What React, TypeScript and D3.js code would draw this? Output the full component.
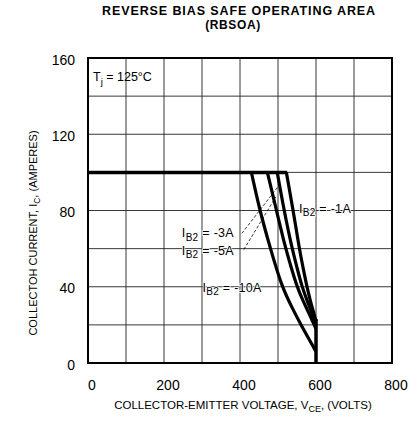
import React, { useRef, useEffect } from "react";
import * as d3 from "d3";

// Values (VCE in volts, IC in amperes)
const xTicks = [0, 200, 400, 600, 800];
const yTicks = [0, 40, 80, 120, 160];

const flatVce = [0, 524];
const flatIc = [100, 100];
const edgeVce = [600, 600];
const edgeIc = [0, 23];

const ib10Vce = [430, 452, 480, 510, 537, 563, 583, 600];
const ib10Ic = [100, 80, 60, 40, 29, 19, 12, 6];
const ib5Vce = [472, 496, 520, 535, 550, 567, 584, 600];
const ib5Ic = [100, 80, 60, 50, 40, 32, 25, 18];
const ib3Vce = [498, 516, 537, 550, 563, 578, 590, 600];
const ib3Ic = [100, 80, 60, 50, 40, 32, 26, 20];
const ib1Vce = [522, 540, 556, 566, 576, 586, 593, 600];
const ib1Ic = [100, 80, 60, 50, 40, 32, 27, 22];

const curves = [
  { label: "-10A", vce: ib10Vce, ic: ib10Ic },
  { label: "-5A", vce: ib5Vce, ic: ib5Ic },
  { label: "-3A", vce: ib3Vce, ic: ib3Ic },
  { label: "-1A", vce: ib1Vce, ic: ib1Ic },
];

const W = 417;
const H = 423;
const FONT = "'Liberation Sans', Arial, sans-serif";

const App: React.FC = () => {
  const svgRef = useRef<SVGSVGElement | null>(null);

  useEffect(() => {
    if (!svgRef.current) return;
    const svg = d3.select(svgRef.current);
    svg.selectAll("*").remove();

    const x = d3.scaleLinear().domain([0, 800]).range([88, 392]);
    const y = d3.scaleLinear().domain([0, 160]).range([363, 58]);

    // grid
    const grid = svg.append("g").attr("stroke", "#222").attr("stroke-width", 0.9);
    grid
      .selectAll("line.v")
      .data(d3.range(100, 800, 100))
      .enter()
      .append("line")
      .attr("x1", (d) => x(d))
      .attr("x2", (d) => x(d))
      .attr("y1", y(0))
      .attr("y2", y(160));
    grid
      .selectAll("line.h")
      .data(d3.range(20, 160, 20))
      .enter()
      .append("line")
      .attr("x1", x(0))
      .attr("x2", x(800))
      .attr("y1", (d) => y(d))
      .attr("y2", (d) => y(d));

    // frame
    svg
      .append("rect")
      .attr("x", x(0))
      .attr("y", y(160))
      .attr("width", x(800) - x(0))
      .attr("height", y(0) - y(160))
      .attr("fill", "none")
      .attr("stroke", "#000")
      .attr("stroke-width", 2);

    // tick labels
    svg
      .append("g")
      .selectAll("text")
      .data(xTicks)
      .enter()
      .append("text")
      .attr("x", (d) => x(d) + 4)
      .attr("y", 390)
      .attr("text-anchor", "middle")
      .attr("font-size", 14)
      .attr("font-family", FONT)
      .text((d) => d);
    svg
      .append("g")
      .selectAll("text")
      .data(yTicks)
      .enter()
      .append("text")
      .attr("x", 75)
      .attr("y", (d) => y(d) + 6.5)
      .attr("text-anchor", "end")
      .attr("font-size", 14)
      .attr("font-family", FONT)
      .text((d) => d);

    // boundary
    const line = d3
      .line<[number, number]>()
      .x((d) => x(d[0]))
      .y((d) => y(d[1]));
    const smooth = d3
      .line<[number, number]>()
      .x((d) => x(d[0]))
      .y((d) => y(d[1]))
      .curve(d3.curveBasis);

    const zip = (a: number[], b: number[]) => a.map((v, i) => [v, b[i]] as [number, number]);

    svg
      .append("path")
      .attr("d", line(zip(flatVce, flatIc))!)
      .attr("fill", "none")
      .attr("stroke", "#000")
      .attr("stroke-width", 3.5);
    svg
      .append("path")
      .attr("d", line(zip(edgeVce, edgeIc))!)
      .attr("fill", "none")
      .attr("stroke", "#000")
      .attr("stroke-width", 3.5);

    svg
      .selectAll(".curve")
      .data(curves)
      .enter()
      .append("path")
      .attr("class", "curve")
      .attr("d", (d) => smooth(zip(d.vce, d.ic))!)
      .attr("fill", "none")
      .attr("stroke", "#000")
      .attr("stroke-width", 3.2);

    // leader lines
    const leaders = [
      [x(405), y(68), x(502), y(93)],
      [x(410), y(59.5), x(494), y(87)],
    ];
    svg
      .selectAll(".leader")
      .data(leaders)
      .enter()
      .append("line")
      .attr("x1", (d) => d[0])
      .attr("y1", (d) => d[1])
      .attr("x2", (d) => d[2])
      .attr("y2", (d) => d[3])
      .attr("stroke", "#000")
      .attr("stroke-width", 0.8)
      .attr("stroke-dasharray", "3,2");

    const ibLabel = (vx: number, ay: number, txt: string) => {
      const t = svg
        .append("text")
        .attr("x", x(vx))
        .attr("y", y(ay) + 4)
        .attr("font-size", 12.5)
        .attr("font-family", FONT)
        .attr("letter-spacing", 0.3)
        .attr("stroke", "#fff")
        .attr("stroke-width", 1.5)
        .attr("paint-order", "stroke");
      t.append("tspan").text("I");
      t.append("tspan").attr("font-size", 10).attr("dy", 3.5).text("B2");
      t.append("tspan").attr("dy", -3.5).text(` = ${txt}`);
    };
    ibLabel(555, 81, "-1A");
    ibLabel(247, 68, "-3A");
    ibLabel(247, 59, "-5A");
    ibLabel(301, 39.5, "-10A");

    // Tj label
    const tj = svg
      .append("text")
      .attr("x", 93)
      .attr("y", 81)
      .attr("font-size", 12.5)
      .attr("font-family", FONT);
    tj.append("tspan").text("T");
    tj.append("tspan").attr("font-size", 9.5).attr("dy", 3.5).text("j");
    tj.append("tspan").attr("dy", -3.5).text(" = 125°C");

    // titles
    svg
      .append("text")
      .attr("x", 239)
      .attr("y", 15)
      .attr("text-anchor", "middle")
      .attr("font-size", 12.5)
      .attr("letter-spacing", 0.9)
      .attr("font-weight", "bold")
      .attr("font-family", FONT)
      .text("REVERSE BIAS SAFE OPERATING AREA");
    svg
      .append("text")
      .attr("x", 233)
      .attr("y", 29)
      .attr("text-anchor", "middle")
      .attr("font-size", 12)
      .attr("letter-spacing", 0.6)
      .attr("font-weight", "bold")
      .attr("font-family", FONT)
      .text("(RBSOA)");

    const xl = svg
      .append("text")
      .attr("x", 243)
      .attr("y", 409)
      .attr("text-anchor", "middle")
      .attr("font-size", 11.5)
      .attr("font-family", FONT);
    xl.append("tspan").text("COLLECTOR-EMITTER VOLTAGE, V");
    xl.append("tspan").attr("font-size", 9).attr("dy", 2.5).text("CE");
    xl.append("tspan").attr("dy", -2.5).text(", (VOLTS)");

    const yl = svg
      .append("text")
      .attr("transform", `translate(37, 233) rotate(-90)`)
      .attr("text-anchor", "middle")
      .attr("font-size", 11)
      .attr("font-family", FONT);
    yl.append("tspan").text("COLLECTOH CURRENT, I");
    yl.append("tspan").attr("font-size", 8.5).attr("dy", 2.5).text("C");
    yl.append("tspan").attr("dy", -2.5).text(", (AMPERES)");
  }, []);

  return (
    <svg
      ref={svgRef}
      width={W}
      height={H}
      style={{ position: "absolute", left: 0, top: 0, background: "#fff" }}
    ></svg>
  );
};

export default App;
